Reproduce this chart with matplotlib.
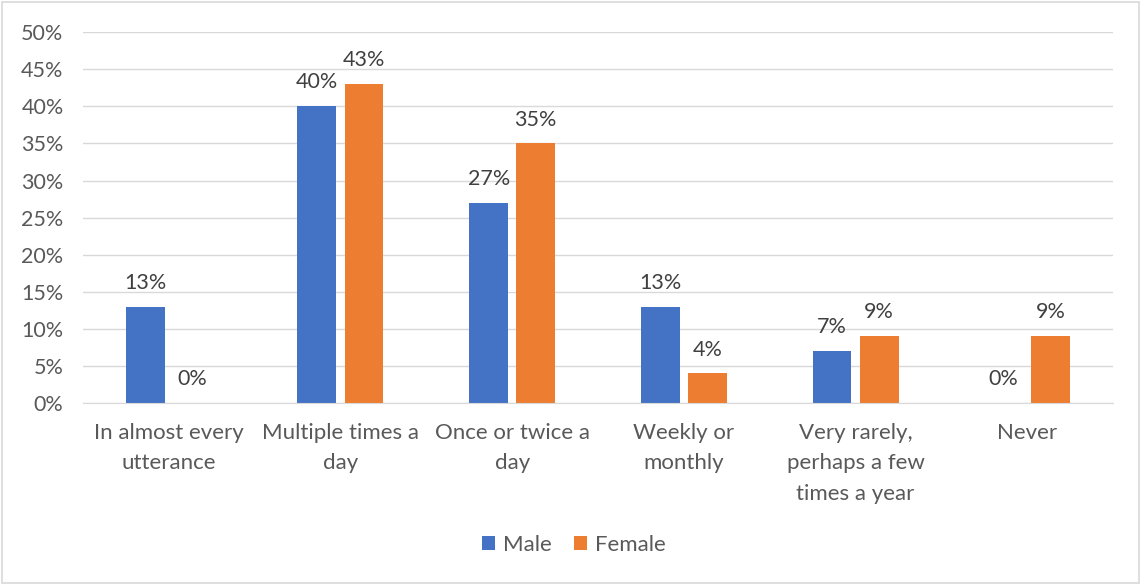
import matplotlib
matplotlib.use("Agg")
import matplotlib.pyplot as plt
import numpy as np
from matplotlib.patches import Rectangle

categories = ["In almost every\nutterance", "Multiple times a\nday", "Once or twice a\nday",
              "Weekly or\nmonthly", "Very rarely,\nperhaps a few\ntimes a year", "Never"]
male = [13, 40, 27, 13, 7, 0]
female = [0, 43, 35, 4, 9, 9]
yticks = [0, 5, 10, 15, 20, 25, 30, 35, 40, 45, 50]

plt.rcParams['font.family'] = ['Lato', 'DejaVu Sans']
txt = '#595959'
fig = plt.figure(figsize=(11.41, 5.85), dpi=100)
ax = fig.add_axes([0.0727, 0.311, 0.9028, 0.634])

x = np.arange(len(categories))
w = 0.227
gap = 0.047
ax.bar(x - (w + gap) / 2, male, w, color='#4472C4', label='Male', zorder=3)
ax.bar(x + (w + gap) / 2, female, w, color='#ED7D31', label='Female', zorder=3)

for i in range(len(categories)):
    ax.annotate(f"{male[i]}%", (x[i] - (w + gap) / 2, male[i]), xytext=(0, 10),
                textcoords='offset points', ha='center', va='bottom', fontsize=15.5, color='#404040')
    ax.annotate(f"{female[i]}%", (x[i] + (w + gap) / 2, female[i]), xytext=(0, 10),
                textcoords='offset points', ha='center', va='bottom', fontsize=15.5, color='#404040')

ax.set_xlim(-0.5, len(categories) - 0.5)
ax.set_ylim(0, 50)
ax.set_yticks(yticks)
ax.set_yticklabels([f"{t}%" for t in yticks], fontsize=15.5, color=txt)
ax.set_xticks(x)
ax.set_xticklabels(categories, fontsize=16, color=txt, linespacing=1.68)
ax.tick_params(axis='both', length=0)
ax.tick_params(axis='x', pad=14)
ax.tick_params(axis='y', pad=14)
ax.grid(axis='y', color='#d9d9d9', linewidth=1, zorder=0)
for s in ['top', 'right', 'left']:
    ax.spines[s].set_visible(False)
ax.spines['bottom'].set_color('#d9d9d9')
ax.spines['bottom'].set_zorder(4)

leg = fig.legend(loc='center', bbox_to_anchor=(0.503, 0.068), ncol=2, frameon=False,
                 fontsize=16, handlelength=0.6, handleheight=0.6, columnspacing=1.0,
                 handletextpad=0.35)
for t in leg.get_texts():
    t.set_color(txt)

fig.patches.append(Rectangle((0.002, 0.003), 0.996, 0.994, transform=fig.transFigure,
                             fill=False, edgecolor='#d9d9d9', linewidth=1.2))
fig.savefig("out.png", dpi=100, facecolor='white')
